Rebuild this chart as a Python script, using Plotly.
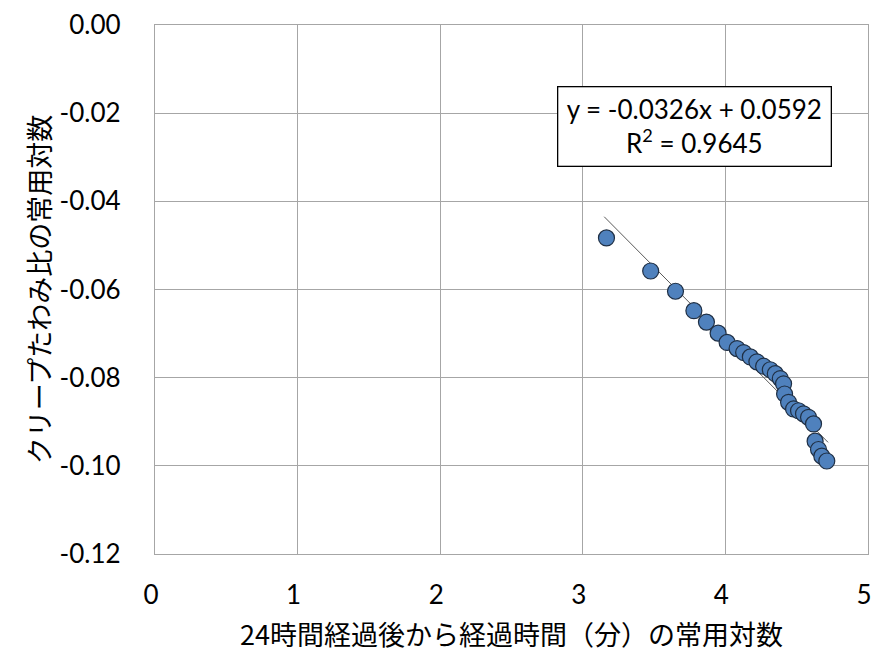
import plotly.graph_objects as go

# data
x_vals = [3.166, 3.476, 3.650, 3.779, 3.867, 3.949, 4.012, 4.082, 4.128, 4.175,
          4.221, 4.268, 4.315, 4.350, 4.385, 4.408, 4.415, 4.443, 4.478, 4.513,
          4.548, 4.583, 4.618, 4.629, 4.653, 4.676, 4.711]
y_vals = [-0.0483, -0.0558, -0.0604, -0.0648, -0.0674, -0.0699, -0.0720, -0.0734, -0.0743, -0.0753,
          -0.0764, -0.0774, -0.0782, -0.0791, -0.0802, -0.0814, -0.0837, -0.0856, -0.0871, -0.0875,
          -0.0882, -0.0890, -0.0905, -0.0944, -0.0963, -0.0978, -0.0989]
slope = -0.0326
intercept = 0.0592
trend_x = [3.15, 4.72]
trend_y = [slope * v + intercept for v in trend_x]

x_ticks = [0, 1, 2, 3, 4, 5]
y_ticks = [0.00, -0.02, -0.04, -0.06, -0.08, -0.10, -0.12]
y_ticktext = ["0.00", "-0.02", "-0.04", "-0.06", "-0.08", "-0.10", "-0.12"]

tick_font = dict(family="Lato, Open Sans, sans-serif", size=26, color="#000000")
jp_font = dict(family="Noto Sans CJK JP", size=27, color="#000000")

fig = go.Figure()
fig.add_trace(go.Scatter(x=trend_x, y=trend_y, mode="lines",
                         line=dict(color="#595959", width=1), showlegend=False, hoverinfo="skip"))
fig.add_trace(go.Scatter(x=x_vals, y=y_vals, mode="markers",
                         marker=dict(size=16, color="#4F81BD", line=dict(color="#1f2f44", width=1.2)),
                         showlegend=False))

fig.add_annotation(x=3.78, y=-0.0231, xref="x", yref="y",
                   text="y = -0.0326x + 0.0592<br>R<sup>2</sup> = 0.9645",
                   showarrow=False, align="center",
                   font=dict(family="Lato, Open Sans, sans-serif", size=26, color="#000000"),
                   bordercolor="#000000", borderwidth=1.3, bgcolor="#ffffff",
                   width=268, height=74, borderpad=2)

grid = "#a6a6a6"
fig.update_layout(
    width=872, height=653,
    paper_bgcolor="#ffffff", plot_bgcolor="#ffffff",
    margin=dict(l=155, r=4, t=25, b=99, autoexpand=False),
    font=dict(family="Lato, Open Sans, sans-serif", size=16, color="#000000"),
    xaxis=dict(range=[0, 5], tickvals=x_ticks, showgrid=True, gridcolor=grid, gridwidth=1.3,
               showline=True, linecolor=grid, linewidth=1.3, mirror=True, zeroline=False,
               ticks="", ticklabelstandoff=18, ticklabelshift=-4, ticklabeloverflow="allow",
               automargin=False, tickfont=tick_font,
               title=dict(text="24時間経過後から経過時間（分）の常用対数", standoff=16, font=jp_font)),
    yaxis=dict(range=[-0.12, 0.0], tickvals=y_ticks, ticktext=y_ticktext, showgrid=True,
               gridcolor=grid, gridwidth=1.3, showline=True, linecolor=grid, linewidth=1.3,
               mirror=True, zeroline=False, ticks="", ticklabelstandoff=28,
               ticklabeloverflow="allow", automargin=False, tickfont=tick_font,
               title=dict(text="クリープたわみ比の常用対数", standoff=1, font=jp_font)),
)

fig.write_html("out.html", config={"displayModeBar": False},
               post_script="document.body.style.margin='0';")
